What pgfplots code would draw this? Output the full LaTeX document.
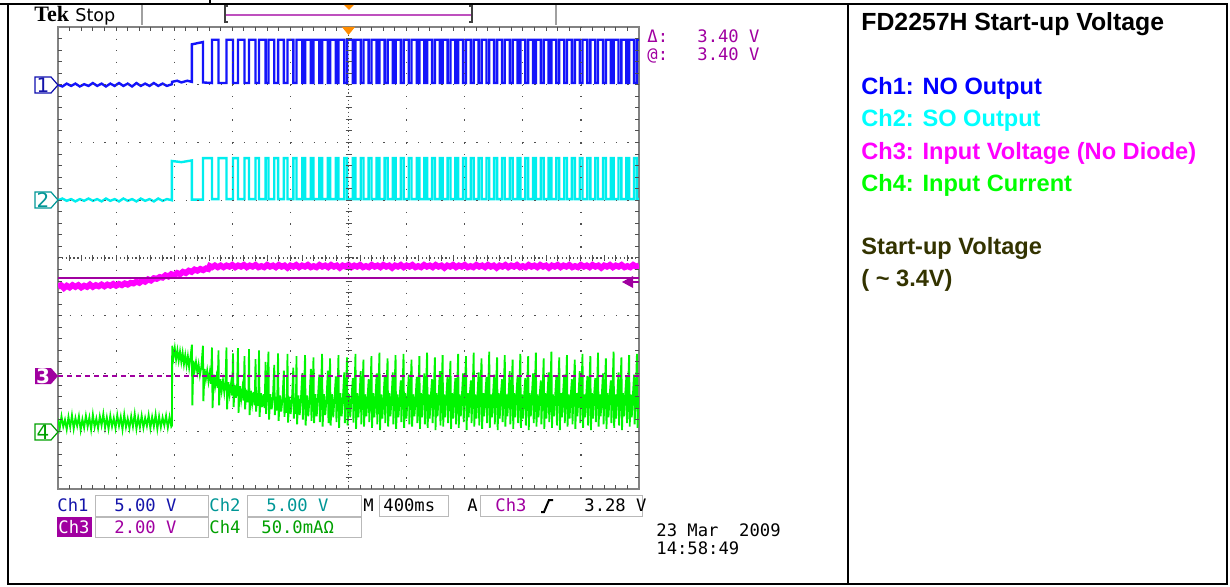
\documentclass[border=0pt]{standalone}
\usepackage{pgfplots}
\pgfplotsset{compat=1.18}
\usepackage{fontspec}
\setmainfont{Liberation Sans}
\newfontfamily\tekmono{DejaVu Sans Mono}
\newfontfamily\tekserif{Liberation Serif}
\newfontfamily\teksans{DejaVu Sans}

\definecolor{chone}{RGB}{20,20,250}
\definecolor{chtwo}{RGB}{0,238,238}
\definecolor{chthree}{RGB}{255,0,255}
\definecolor{chfour}{RGB}{0,245,0}
\definecolor{tekpurple}{RGB}{160,0,160}
\definecolor{tekblue}{RGB}{20,20,170}
\definecolor{tekteal}{RGB}{0,150,150}
\definecolor{tekgreen}{RGB}{0,160,0}
\definecolor{tekorange}{RGB}{255,140,0}
\definecolor{gridgray}{RGB}{80,80,80}
\definecolor{framegray}{RGB}{130,130,130}
\definecolor{bargray}{RGB}{160,160,160}
\definecolor{boxgray}{RGB}{185,185,185}
\definecolor{recline}{RGB}{190,80,190}
\definecolor{startcol}{RGB}{51,51,0}

\begin{document}
\begin{tikzpicture}[
  mono/.style={font=\tekmono\fontsize{8.6}{10}\selectfont, inner sep=0pt, anchor=base west},
  side/.style={font=\bfseries\fontsize{11.8}{13}\selectfont, inner sep=0pt, anchor=base west},
  mark num/.style={font=\teksans\fontsize{10}{12}\selectfont, inner sep=0pt},
]
\path[use as bounding box] (0,0) rectangle (615pt,-293.5pt);

% scope screen: x = time (ms, 400 ms/div), y = screen divisions
\begin{axis}[
  at={(29pt,-244.5pt)}, anchor=south west,
  scale only axis, width=290.5pt, height=231pt,
  xmin=-2000, xmax=2000, ymin=-4, ymax=4,
  xtick=\empty, ytick=\empty,
  axis line style={framegray, line width=1.4pt},
]
% Ch4 input current
\addplot[chfour, line width=0.9pt] coordinates {
(-2000,-2.78) (-1988,-2.95) (-1976,-2.74) (-1964,-2.92) (-1952,-2.80) (-1940,-2.97) (-1928,-2.75) (-1916,-2.93)
(-1904,-2.72) (-1892,-2.96) (-1880,-2.77) (-1868,-2.91) (-1856,-2.74) (-1844,-2.98) (-1832,-2.79) (-1820,-2.94)
(-1808,-2.73) (-1796,-2.92) (-1784,-2.76) (-1772,-2.97) (-1760,-2.71) (-1748,-2.93) (-1736,-2.78) (-1724,-2.95)
(-1712,-2.74) (-1700,-2.90) (-1688,-2.70) (-1676,-2.94) (-1664,-2.76) (-1652,-2.96) (-1640,-2.73) (-1628,-2.92)
(-1616,-2.77) (-1604,-2.95) (-1592,-2.72) (-1580,-2.91) (-1568,-2.75) (-1556,-2.97) (-1544,-2.71) (-1532,-2.93)
(-1520,-2.78) (-1508,-2.95) (-1496,-2.74) (-1484,-2.92) (-1472,-2.70) (-1460,-2.96) (-1448,-2.76) (-1436,-2.93)
(-1424,-2.73) (-1412,-2.94) (-1400,-2.77) (-1388,-2.91) (-1376,-2.72) (-1364,-2.95) (-1352,-2.75) (-1340,-2.92)
(-1328,-2.71) (-1316,-2.96) (-1304,-2.74) (-1292,-2.93) (-1280,-2.76) (-1268,-2.90) (-1256,-2.73) (-1244,-2.94)
(-1232,-2.75) (-1220,-2.92) (-1215,-2.90) (-1214,-1.52)
(-1205,-1.72) (-1196,-1.56) (-1187,-1.76) (-1178,-1.60) (-1169,-1.78) (-1160,-1.62) (-1151,-1.80) (-1142,-1.64)
(-1133,-1.84) (-1124,-1.68) (-1115,-1.86) (-1106,-1.70) (-1097,-1.90) (-1088,-1.72)
(-1078,-1.50) (-1075,-2.55) (-1068,-1.78) (-1059,-1.95) (-1050,-1.80) (-1041,-1.98) (-1032,-1.84) (-1023,-2.03) (-1013,-1.88)
(-1002,-1.52) (-999,-2.48) (-991,-1.92) (-982,-2.10) (-973,-1.95) (-964,-2.14) (-955,-1.98) (-947,-2.18)
(-940,-1.55) (-936,-2.60) (-927,-2.02) (-918,-2.22) (-909,-2.06) (-901,-2.25)
(-895,-1.60) (-891,-2.55) (-882,-2.10) (-873,-2.30) (-864,-2.12) (-855,-2.33) (-847,-2.15)
(-840,-1.55) (-836,-2.62) (-827,-2.15) (-818,-2.36) (-809,-2.18) (-801,-2.38)
(-795,-1.65) (-791,-2.58) (-783,-2.20) (-775,-2.42) (-767,-2.22)
(-761,-1.56) (-757,-2.68) (-748,-2.22) (-739,-2.45) (-730,-2.25) (-722,-2.47)
(-716,-1.70) (-712,-2.62) (-704,-2.28) (-696,-2.50) (-689,-2.30)
(-685,-1.58) (-681,-2.72) (-672,-2.30) (-663,-2.52) (-654,-2.32) (-646,-2.55)
(-640,-1.75) (-636,-2.66) (-629,-2.34) (-622,-2.56)
(-616,-1.60) (-612,-2.75) (-603,-2.34) (-594,-2.58) (-585,-2.36) (-577,-2.60)
(-571,-1.80) (-567,-2.70) (-560,-2.38)
(-551,-1.62) (-547,-2.80) (-538,-2.36) (-529,-2.62) (-520,-2.40)
(-511,-1.85) (-507,-2.72) (-499,-2.40) (-492,-2.64)
(-485,-1.65) (-481,-2.82) (-472,-2.38) (-463,-2.66) (-454,-2.42)
(-445,-1.95) (-441,-2.75) (-433,-2.42) (-426,-2.68)
(-420,-1.66) (-416,-2.85) (-407,-2.40) (-398,-2.70) (-389,-2.44)
(-380,-1.90) (-376,-2.78) (-368,-2.42) (-363,-2.70)
(-358,-1.70) (-354,-2.88) (-345,-2.38) (-336,-2.72) (-327,-2.42)
(-318,-2.00) (-314,-2.80) (-307,-2.40)
(-299,-1.68) (-295,-2.90) (-286,-2.38) (-277,-2.74) (-268,-2.42)
(-259,-1.92) (-255,-2.82) (-248,-2.40)
(-241,-1.72) (-237,-2.86) (-228,-2.36) (-219,-2.74) (-210,-2.40)
(-201,-2.02) (-197,-2.84) (-190,-2.38)
(-182,-1.66) (-178,-2.92) (-169,-2.36) (-160,-2.72) (-151,-2.42)
(-142,-1.95) (-138,-2.86) (-132,-2.40)
(-127,-1.74) (-123,-2.90) (-114,-2.36) (-105,-2.76) (-96,-2.40)
(-87,-2.05) (-83,-2.84) (-76,-2.38)
(-69,-1.68) (-65,-2.94) (-56,-2.34) (-47,-2.74) (-38,-2.40)
(-29,-1.98) (-25,-2.86) (-18,-2.38)
(-10,-1.72) (-6,-2.90) (3,-2.36) (12,-2.76) (21,-2.40)
(30,-2.08) (34,-2.85) (41,-2.36)
(48,-1.66) (52,-2.96) (60,-2.34) (68,-2.76) (76,-2.40)
(84,-1.96) (88,-2.88) (95,-2.36)
(103,-1.76) (107,-2.92) (115,-2.36) (123,-2.74) (131,-2.42)
(139,-2.10) (143,-2.84) (150,-2.38)
(158,-1.70) (162,-2.94) (170,-2.34) (178,-2.76) (186,-2.40)
(194,-2.00) (198,-2.88) (205,-2.38)
(213,-1.64) (217,-2.98) (225,-2.36) (233,-2.78) (241,-2.42)
(249,-2.06) (253,-2.86) (260,-2.36)
(269,-1.74) (273,-2.92) (281,-2.34) (289,-2.74) (297,-2.40)
(305,-1.98) (309,-2.88) (316,-2.38)
(324,-1.68) (328,-2.96) (336,-2.36) (344,-2.76) (352,-2.42)
(360,-2.12) (364,-2.84) (371,-2.38)
(379,-1.66) (383,-2.94) (391,-2.34) (399,-2.78) (407,-2.40)
(415,-2.02) (419,-2.88) (426,-2.36)
(434,-1.76) (438,-2.92) (446,-2.36) (454,-2.74) (462,-2.42)
(470,-2.06) (474,-2.86) (481,-2.38)
(488,-1.70) (492,-2.96) (499,-2.34) (506,-2.76) (513,-2.40)
(522,-2.00) (526,-2.88) (533,-2.36)
(541,-1.64) (545,-2.94) (552,-2.36) (559,-2.78) (566,-2.42)
(575,-2.10) (579,-2.86) (586,-2.38)
(595,-1.72) (599,-2.98) (606,-2.34) (613,-2.74) (620,-2.40)
(629,-1.96) (633,-2.90) (640,-2.36)
(648,-1.68) (652,-2.92) (659,-2.36) (666,-2.76) (673,-2.42)
(682,-2.04) (686,-2.86) (693,-2.38)
(702,-1.78) (706,-2.96) (713,-2.34) (720,-2.78) (727,-2.40)
(736,-2.08) (740,-2.88) (747,-2.36)
(755,-1.66) (759,-2.94) (766,-2.36) (773,-2.74) (780,-2.42)
(789,-2.00) (793,-2.84) (800,-2.38)
(809,-1.70) (813,-2.98) (820,-2.34) (827,-2.76) (834,-2.40)
(843,-2.12) (847,-2.86) (854,-2.36)
(862,-1.64) (866,-2.92) (873,-2.36) (880,-2.78) (887,-2.42)
(896,-1.98) (900,-2.90) (907,-2.38)
(916,-1.74) (920,-2.96) (927,-2.34) (934,-2.74) (941,-2.40)
(950,-2.06) (954,-2.86) (961,-2.36)
(969,-1.62) (973,-2.94) (980,-2.36) (987,-2.76) (994,-2.42)
(1003,-2.02) (1007,-2.88) (1014,-2.38)
(1023,-1.72) (1027,-2.98) (1034,-2.34) (1041,-2.78) (1048,-2.40)
(1057,-2.10) (1061,-2.84) (1068,-2.36)
(1076,-1.68) (1080,-2.92) (1087,-2.36) (1094,-2.74) (1101,-2.42)
(1110,-1.96) (1114,-2.88) (1121,-2.38)
(1130,-1.76) (1134,-2.96) (1141,-2.34) (1148,-2.76) (1155,-2.40)
(1164,-2.04) (1168,-2.86) (1175,-2.36)
(1183,-1.66) (1187,-2.94) (1194,-2.36) (1201,-2.78) (1208,-2.42)
(1217,-2.08) (1221,-2.90) (1228,-2.38)
(1237,-1.70) (1241,-2.98) (1248,-2.34) (1255,-2.74) (1262,-2.40)
(1271,-2.00) (1275,-2.86) (1282,-2.36)
(1290,-1.64) (1294,-2.92) (1301,-2.36) (1308,-2.76) (1315,-2.42)
(1324,-2.12) (1328,-2.88) (1335,-2.38)
(1344,-1.74) (1348,-2.96) (1355,-2.34) (1362,-2.78) (1369,-2.40)
(1378,-1.98) (1382,-2.84) (1389,-2.36)
(1397,-1.62) (1401,-2.94) (1408,-2.36) (1415,-2.74) (1422,-2.42)
(1431,-2.06) (1435,-2.90) (1442,-2.38)
(1451,-1.72) (1455,-2.98) (1462,-2.34) (1469,-2.76) (1476,-2.40)
(1485,-2.02) (1489,-2.86) (1496,-2.36)
(1504,-1.68) (1508,-2.92) (1515,-2.36) (1522,-2.78) (1529,-2.42)
(1538,-2.10) (1542,-2.88) (1549,-2.38)
(1558,-1.76) (1562,-2.96) (1569,-2.34) (1576,-2.74) (1583,-2.40)
(1592,-1.96) (1596,-2.86) (1603,-2.36)
(1611,-1.66) (1615,-2.94) (1622,-2.36) (1629,-2.76) (1636,-2.42)
(1645,-2.04) (1649,-2.90) (1656,-2.38)
(1665,-1.70) (1669,-2.98) (1676,-2.34) (1683,-2.78) (1690,-2.40)
(1699,-2.08) (1703,-2.84) (1710,-2.36)
(1718,-1.64) (1722,-2.92) (1729,-2.36) (1736,-2.74) (1743,-2.42)
(1752,-2.00) (1756,-2.88) (1763,-2.38)
(1772,-1.74) (1776,-2.96) (1783,-2.34) (1790,-2.76) (1797,-2.40)
(1806,-2.12) (1810,-2.86) (1817,-2.36)
(1825,-1.62) (1829,-2.94) (1836,-2.36) (1843,-2.78) (1850,-2.42)
(1859,-1.98) (1863,-2.90) (1870,-2.38)
(1879,-1.72) (1883,-2.98) (1890,-2.34) (1897,-2.74) (1904,-2.40)
(1913,-2.06) (1917,-2.86) (1924,-2.36)
(1932,-1.68) (1936,-2.92) (1943,-2.36) (1950,-2.76) (1957,-2.42)
(1966,-2.02) (1970,-2.88) (1977,-2.38)
(1986,-1.66) (1990,-2.94) (1996,-2.40) (2000,-2.60)
};

% Ch3 input voltage
\addplot[chthree, line width=3pt] coordinates {
(-2000,-0.50) (-1980,-0.47) (-1960,-0.52) (-1940,-0.48) (-1920,-0.51) (-1900,-0.47) (-1880,-0.50) (-1860,-0.47)
(-1840,-0.51) (-1820,-0.48) (-1800,-0.50) (-1780,-0.46) (-1760,-0.50) (-1740,-0.47) (-1720,-0.49) (-1700,-0.46)
(-1680,-0.49) (-1660,-0.46) (-1640,-0.48) (-1620,-0.45) (-1600,-0.48) (-1580,-0.45) (-1560,-0.47) (-1540,-0.44)
(-1520,-0.46) (-1500,-0.43) (-1480,-0.44) (-1460,-0.41) (-1440,-0.43) (-1420,-0.39) (-1400,-0.41) (-1380,-0.37)
(-1360,-0.39) (-1340,-0.35) (-1320,-0.36) (-1300,-0.33) (-1280,-0.34) (-1260,-0.30) (-1240,-0.32) (-1220,-0.28)
(-1200,-0.30) (-1180,-0.26) (-1160,-0.28) (-1140,-0.24) (-1120,-0.26) (-1100,-0.22) (-1080,-0.24) (-1060,-0.20)
(-1040,-0.22) (-1020,-0.19) (-1000,-0.21) (-980,-0.18) (-965,-0.19) (-955,-0.14) (-940,-0.16) (-920,-0.13)
(-900,-0.16) (-880,-0.13) (-860,-0.16) (-840,-0.13) (-820,-0.15) (-800,-0.12) (-780,-0.16) (-760,-0.13)
(-740,-0.15) (-720,-0.12) (-700,-0.16) (-680,-0.13) (-660,-0.15) (-640,-0.12) (-620,-0.16) (-600,-0.14)
(-580,-0.16) (-560,-0.12) (-540,-0.15) (-520,-0.13) (-500,-0.16) (-480,-0.12) (-460,-0.15) (-440,-0.13)
(-420,-0.17) (-400,-0.13) (-380,-0.15) (-360,-0.12) (-340,-0.16) (-320,-0.13) (-300,-0.15) (-280,-0.12)
(-260,-0.16) (-240,-0.14) (-220,-0.16) (-200,-0.12) (-180,-0.15) (-160,-0.13) (-140,-0.16) (-120,-0.12)
(-100,-0.15) (-80,-0.13) (-60,-0.17) (-40,-0.13) (-20,-0.15) (0,-0.12) (20,-0.16) (40,-0.13)
(60,-0.15) (80,-0.12) (100,-0.16) (120,-0.14) (140,-0.16) (160,-0.12) (180,-0.15) (200,-0.13)
(220,-0.16) (240,-0.12) (260,-0.15) (280,-0.13) (300,-0.17) (320,-0.13) (340,-0.15) (360,-0.12)
(380,-0.16) (400,-0.13) (420,-0.15) (440,-0.12) (460,-0.16) (480,-0.14) (500,-0.16) (520,-0.12)
(540,-0.15) (560,-0.13) (580,-0.16) (600,-0.12) (620,-0.15) (640,-0.13) (660,-0.17) (680,-0.13)
(700,-0.15) (720,-0.12) (740,-0.16) (760,-0.13) (780,-0.15) (800,-0.12) (820,-0.16) (840,-0.14)
(860,-0.16) (880,-0.12) (900,-0.15) (920,-0.13) (940,-0.16) (960,-0.12) (980,-0.15) (1000,-0.13)
(1020,-0.17) (1040,-0.13) (1060,-0.15) (1080,-0.12) (1100,-0.16) (1120,-0.13) (1140,-0.15) (1160,-0.12)
(1180,-0.16) (1200,-0.14) (1220,-0.16) (1240,-0.12) (1260,-0.15) (1280,-0.13) (1300,-0.16) (1320,-0.12)
(1340,-0.15) (1360,-0.13) (1380,-0.17) (1400,-0.13) (1420,-0.15) (1440,-0.12) (1460,-0.16) (1480,-0.13)
(1500,-0.15) (1520,-0.12) (1540,-0.16) (1560,-0.14) (1580,-0.16) (1600,-0.12) (1620,-0.15) (1640,-0.13)
(1660,-0.16) (1680,-0.12) (1700,-0.15) (1720,-0.13) (1740,-0.17) (1760,-0.13) (1780,-0.15) (1800,-0.12)
(1820,-0.16) (1840,-0.13) (1860,-0.15) (1880,-0.12) (1900,-0.16) (1920,-0.14) (1940,-0.16) (1960,-0.12)
(1980,-0.15) (2000,-0.13)
};

% Ch2 SO output
\addplot[chtwo, line width=1.2pt] coordinates {
(-2000,1.00) (-1970,1.03) (-1940,0.99) (-1910,1.02) (-1880,0.98) (-1850,1.02) (-1820,0.99) (-1790,1.03)
(-1760,0.99) (-1730,1.02) (-1700,0.98) (-1670,1.03) (-1640,0.99) (-1610,1.02) (-1580,0.98) (-1550,1.03)
(-1520,0.99) (-1490,1.02) (-1460,0.98) (-1430,1.03) (-1400,0.99) (-1370,1.02) (-1340,0.98) (-1310,1.03)
(-1280,0.99) (-1250,1.02) (-1216,1.00) (-1216,1.68) (-1150,1.66) (-1078,1.69) (-1078,1.01) (-1002,1.01) (-1002,1.73)
(-940,1.73) (-940,1.02) (-895,1.02) (-895,1.73)
(-840,1.73) (-840,1.02) (-795,1.02) (-795,1.73)
(-761,1.73) (-761,1.02) (-716,1.02) (-716,1.73)
(-685,1.73) (-685,1.02) (-640,1.02) (-640,1.73)
(-616,1.73) (-616,1.02) (-571,1.02) (-571,1.73)
(-551,1.73) (-551,1.02) (-511,1.02) (-511,1.73)
(-485,1.73) (-485,1.02) (-445,1.02) (-445,1.73)
(-420,1.73) (-420,1.02) (-380,1.02) (-380,1.73)
(-358,1.73) (-358,1.02) (-318,1.02) (-318,1.73)
(-299,1.73) (-299,1.02) (-259,1.02) (-259,1.73)
(-241,1.73) (-241,1.02) (-201,1.02) (-201,1.73)
(-182,1.73) (-182,1.02) (-142,1.02) (-142,1.73)
(-127,1.73) (-127,1.02) (-87,1.02) (-87,1.73)
(-69,1.73) (-69,1.02) (-29,1.02) (-29,1.73)
(-10,1.73) (-10,1.02) (30,1.02) (30,1.73)
(48,1.73) (48,1.02) (84,1.02) (84,1.73)
(103,1.73) (103,1.02) (139,1.02) (139,1.73)
(158,1.73) (158,1.02) (194,1.02) (194,1.73)
(213,1.73) (213,1.02) (249,1.02) (249,1.73)
(269,1.73) (269,1.02) (305,1.02) (305,1.73)
(324,1.73) (324,1.02) (360,1.02) (360,1.73)
(379,1.73) (379,1.02) (415,1.02) (415,1.73)
(434,1.73) (434,1.02) (470,1.02) (470,1.73)
(488,1.73) (488,1.02) (522,1.02) (522,1.73)
(541,1.73) (541,1.02) (575,1.02) (575,1.73)
(595,1.73) (595,1.02) (629,1.02) (629,1.73)
(648,1.73) (648,1.02) (682,1.02) (682,1.73)
(702,1.73) (702,1.02) (736,1.02) (736,1.73)
(755,1.73) (755,1.02) (789,1.02) (789,1.73)
(809,1.73) (809,1.02) (843,1.02) (843,1.73)
(862,1.73) (862,1.02) (896,1.02) (896,1.73)
(916,1.73) (916,1.02) (950,1.02) (950,1.73)
(969,1.73) (969,1.02) (1003,1.02) (1003,1.73)
(1023,1.73) (1023,1.02) (1057,1.02) (1057,1.73)
(1076,1.73) (1076,1.02) (1110,1.02) (1110,1.73)
(1130,1.73) (1130,1.02) (1164,1.02) (1164,1.73)
(1183,1.73) (1183,1.02) (1217,1.02) (1217,1.73)
(1237,1.73) (1237,1.02) (1271,1.02) (1271,1.73)
(1290,1.73) (1290,1.02) (1324,1.02) (1324,1.73)
(1344,1.73) (1344,1.02) (1378,1.02) (1378,1.73)
(1397,1.73) (1397,1.02) (1431,1.02) (1431,1.73)
(1451,1.73) (1451,1.02) (1485,1.02) (1485,1.73)
(1504,1.73) (1504,1.02) (1538,1.02) (1538,1.73)
(1558,1.73) (1558,1.02) (1592,1.02) (1592,1.73)
(1611,1.73) (1611,1.02) (1645,1.02) (1645,1.73)
(1665,1.73) (1665,1.02) (1699,1.02) (1699,1.73)
(1718,1.73) (1718,1.02) (1752,1.02) (1752,1.73)
(1772,1.73) (1772,1.02) (1806,1.02) (1806,1.73)
(1825,1.73) (1825,1.02) (1859,1.02) (1859,1.73)
(1879,1.73) (1879,1.02) (1913,1.02) (1913,1.73)
(1932,1.73) (1932,1.02) (1966,1.02) (1966,1.73)
(1986,1.73) (1986,1.02) (2000,1.02)
};

% Ch1 NO output
\addplot[chone, line width=1.2pt] coordinates {
(-2000,3.00) (-1970,2.97) (-1940,3.02) (-1910,2.98) (-1880,3.02) (-1850,2.97) (-1820,3.01) (-1790,2.98)
(-1760,3.03) (-1730,2.98) (-1700,3.02) (-1670,2.97) (-1640,3.02) (-1610,2.98) (-1580,3.03) (-1550,2.98)
(-1520,3.02) (-1490,2.97) (-1460,3.03) (-1430,2.98) (-1400,3.02) (-1370,2.98) (-1340,3.03) (-1310,2.98)
(-1280,3.02) (-1250,2.98) (-1215,3.01) (-1215,3.05) (-1180,3.07) (-1150,3.04) (-1110,3.07) (-1078,3.05)
(-1078,3.70) (-1040,3.72) (-1002,3.74) (-1002,3.04)
(-940,3.03) (-940,3.78) (-895,3.78) (-895,3.03)
(-840,3.03) (-840,3.78) (-795,3.78) (-795,3.03)
(-761,3.03) (-761,3.78) (-716,3.78) (-716,3.03)
(-685,3.03) (-685,3.78) (-640,3.78) (-640,3.03)
(-616,3.03) (-616,3.78) (-571,3.78) (-571,3.03)
(-551,3.03) (-551,3.78) (-511,3.78) (-511,3.03)
(-485,3.03) (-485,3.78) (-445,3.78) (-445,3.03)
(-420,3.03) (-420,3.78) (-380,3.78) (-380,3.03)
(-358,3.03) (-358,3.78) (-318,3.78) (-318,3.03)
(-299,3.03) (-299,3.78) (-259,3.78) (-259,3.03)
(-241,3.03) (-241,3.78) (-201,3.78) (-201,3.03)
(-182,3.03) (-182,3.78) (-142,3.78) (-142,3.03)
(-127,3.03) (-127,3.78) (-87,3.78) (-87,3.03)
(-69,3.03) (-69,3.78) (-29,3.78) (-29,3.03)
(-10,3.03) (-10,3.78) (30,3.78) (30,3.03)
(48,3.03) (48,3.78) (84,3.78) (84,3.03)
(103,3.03) (103,3.78) (139,3.78) (139,3.03)
(158,3.03) (158,3.78) (194,3.78) (194,3.03)
(213,3.03) (213,3.78) (249,3.78) (249,3.03)
(269,3.03) (269,3.78) (305,3.78) (305,3.03)
(324,3.03) (324,3.78) (360,3.78) (360,3.03)
(379,3.03) (379,3.78) (415,3.78) (415,3.03)
(434,3.03) (434,3.78) (470,3.78) (470,3.03)
(488,3.03) (488,3.78) (522,3.78) (522,3.03)
(541,3.03) (541,3.78) (575,3.78) (575,3.03)
(595,3.03) (595,3.78) (629,3.78) (629,3.03)
(648,3.03) (648,3.78) (682,3.78) (682,3.03)
(702,3.03) (702,3.78) (736,3.78) (736,3.03)
(755,3.03) (755,3.78) (789,3.78) (789,3.03)
(809,3.03) (809,3.78) (843,3.78) (843,3.03)
(862,3.03) (862,3.78) (896,3.78) (896,3.03)
(916,3.03) (916,3.78) (950,3.78) (950,3.03)
(969,3.03) (969,3.78) (1003,3.78) (1003,3.03)
(1023,3.03) (1023,3.78) (1057,3.78) (1057,3.03)
(1076,3.03) (1076,3.78) (1110,3.78) (1110,3.03)
(1130,3.03) (1130,3.78) (1164,3.78) (1164,3.03)
(1183,3.03) (1183,3.78) (1217,3.78) (1217,3.03)
(1237,3.03) (1237,3.78) (1271,3.78) (1271,3.03)
(1290,3.03) (1290,3.78) (1324,3.78) (1324,3.03)
(1344,3.03) (1344,3.78) (1378,3.78) (1378,3.03)
(1397,3.03) (1397,3.78) (1431,3.78) (1431,3.03)
(1451,3.03) (1451,3.78) (1485,3.78) (1485,3.03)
(1504,3.03) (1504,3.78) (1538,3.78) (1538,3.03)
(1558,3.03) (1558,3.78) (1592,3.78) (1592,3.03)
(1611,3.03) (1611,3.78) (1645,3.78) (1645,3.03)
(1665,3.03) (1665,3.78) (1699,3.78) (1699,3.03)
(1718,3.03) (1718,3.78) (1752,3.78) (1752,3.03)
(1772,3.03) (1772,3.78) (1806,3.78) (1806,3.03)
(1825,3.03) (1825,3.78) (1859,3.78) (1859,3.03)
(1879,3.03) (1879,3.78) (1913,3.78) (1913,3.03)
(1932,3.03) (1932,3.78) (1966,3.78) (1966,3.03)
(1986,3.03) (1986,3.78) (2000,3.78)
};

% Ch3 ground reference and cursor at 3.40 V
\draw[tekpurple, line width=0.8pt, dash pattern=on 2.5pt off 2pt] (axis cs:-2000,-2.04) -- (axis cs:2000,-2.04);
\draw[tekpurple, line width=0.8pt] (axis cs:-2000,-0.35) -- (axis cs:2000,-0.35);
\end{axis}

% everything else in screen pixels
\begin{scope}[x=0.5pt,y=-0.5pt]
% frame of the slide table
\draw[line width=1.3pt] (8,4) rectangle (1227,584);
\draw[line width=1.3pt] (0,4) -- (8,4);
\draw[line width=1.3pt] (848,4) -- (848,584);
\draw[line width=1pt] (210,0) -- (210,4);

% graticule
\foreach \i in {1,2,3,4,6,7,8,9}
  \draw[gridgray, line width=0.6pt, dash pattern=on 0.6pt off 5.175pt] ({58+58.1*\i},27) -- ({58+58.1*\i},489);
\foreach \j in {1,2,3,5,6,7}
  \draw[gridgray, line width=0.6pt, dash pattern=on 0.6pt off 5.21pt] (58,{27+57.75*\j}) -- (639,{27+57.75*\j});
\draw[gridgray, line width=0.6pt, dash pattern=on 0.6pt off 1.325pt] (348.5,27) -- (348.5,489);
\draw[gridgray, line width=0.6pt, dash pattern=on 0.6pt off 1.337pt] (58,258) -- (639,258);
\foreach \k in {1,...,39} {
  \draw[gridgray, line width=0.5pt] (345.5,{27+11.55*\k}) -- (351.5,{27+11.55*\k});
  \draw[gridgray, line width=0.5pt] (58,{27+11.55*\k}) -- (62,{27+11.55*\k});
  \draw[gridgray, line width=0.5pt] (639,{27+11.55*\k}) -- (635,{27+11.55*\k});
}
\foreach \k in {1,...,49} {
  \draw[gridgray, line width=0.5pt] ({58+11.62*\k},255) -- ({58+11.62*\k},261);
  \draw[gridgray, line width=0.5pt] ({58+11.62*\k},27) -- ({58+11.62*\k},31);
  \draw[gridgray, line width=0.5pt] ({58+11.62*\k},489) -- ({58+11.62*\k},485);
}

% trigger position markers
\fill[tekorange] (342,27) -- (355,27) -- (348.5,35) -- cycle;
\fill[tekorange] (344,5) -- (354,5) -- (349,10) -- cycle;

% top status bar
\node[inner sep=0pt, anchor=base west, font=\tekserif\bfseries\fontsize{11}{12}\selectfont] at (34,22) {Tek};
\node[inner sep=0pt, anchor=base west, font=\teksans\fontsize{8.8}{10}\selectfont] at (75,22) {Stop};
\draw[bargray, line width=0.8pt] (142,5) -- (142,25);
\draw[bargray, line width=0.8pt] (556,5) -- (556,25);
\draw[black!75, line width=0.8pt] (228,6) -- (225,6) -- (225,22) -- (228,22);
\draw[black!75, line width=0.8pt] (469,6) -- (472,6) -- (472,22) -- (469,22);
\draw[recline, line width=0.9pt] (226,15) -- (471,15);

% channel markers
\draw[chone!70!black, line width=0.6pt] (35,77) -- (51,77) -- (58,85) -- (51,93) -- (35,93) -- cycle;
\node[mark num, text=tekblue] at (43,85) {1};
\draw[tekteal, line width=0.6pt] (35,192) -- (51,192) -- (58,200) -- (51,208) -- (35,208) -- cycle;
\node[mark num, text=tekteal] at (43,200) {2};
\fill[tekpurple] (35,368) -- (51,368) -- (58,376) -- (51,384) -- (35,384) -- cycle;
\node[mark num, font=\teksans\bfseries\fontsize{10}{12}\selectfont, text=white] at (43,376) {3};
\draw[tekgreen, line width=0.6pt] (35,424) -- (51,424) -- (58,432) -- (51,440) -- (35,440) -- cycle;
\node[mark num, text=tekgreen] at (43,432) {4};

% trigger level
\fill[tekpurple] (622,282) -- (633,276) -- (633,288) -- cycle;
\draw[tekpurple, line width=0.9pt] (632,282) -- (639,282);

% cursor readout
\node[mono, text=tekpurple] at (647,43) {Δ:};
\node[mono, text=tekpurple] at (697,43) {3.40 V};
\node[mono, text=tekpurple] at (647,61) {@:};
\node[mono, text=tekpurple] at (697,61) {3.40 V};

% channel / timebase readouts
\draw[boxgray, line width=0.5pt] (95,495) rectangle (208,516);
\draw[boxgray, line width=0.5pt] (247,495) rectangle (361,516);
\draw[boxgray, line width=0.5pt] (379,495) rectangle (448,516);
\draw[boxgray, line width=0.5pt] (480,495) rectangle (642,516);
\draw[boxgray, line width=0.5pt] (95,517) rectangle (208,537);
\draw[boxgray, line width=0.5pt] (247,517) rectangle (361,537);
\node[mono, text=tekblue] at (57,511.5) {Ch1};
\node[mono, text=tekblue] at (114,511.5) {5.00 V};
\node[mono, text=tekteal] at (209,511.5) {Ch2};
\node[mono, text=tekteal] at (266,511.5) {5.00 V};
\node[mono] at (363,511.5) {M};
\node[mono] at (383,511.5) {400ms};
\node[mono] at (467,511.5) {A};
\node[mono, text=tekpurple] at (495,511.5) {Ch3};
\draw[black, line width=1pt] (541,512) -- (544,512) -- (549,500) -- (553,500);
\node[mono] at (584,511.5) {3.28 V};
\fill[tekpurple] (57,517) rectangle (92,537);
\node[mono, text=white] at (58,533) {Ch3};
\node[mono, text=tekpurple] at (114,533) {2.00 V};
\node[mono, text=tekgreen] at (209,533) {Ch4};
\node[mono, text=tekgreen] at (261,533) {50.0mAΩ};
\node[mono] at (656,536) {23 Mar\ \ 2009};
\node[mono] at (656,554) {14:58:49};

% notes beside the screen
\node[side, font=\bfseries\fontsize{12.4}{14}\selectfont] at (861,30.5) {FD2257H Start-up Voltage};
\node[side, text={rgb,255:red,0;green,0;blue,255}] at (861,95) {Ch1: NO Output};
\node[side, text={rgb,255:red,0;green,255;blue,255}] at (861,126.5) {Ch2: SO Output};
\node[side, text={rgb,255:red,255;green,0;blue,255}] at (861,160) {Ch3: Input Voltage (No Diode)};
\node[side, text={rgb,255:red,0;green,255;blue,0}] at (861,191.5) {Ch4: Input Current};
\node[side, text=startcol] at (861,255) {Start-up Voltage};
\node[side, text=startcol] at (861,286.5) {( \textasciitilde{} 3.4V)};
\end{scope}
\end{tikzpicture}
\end{document}
